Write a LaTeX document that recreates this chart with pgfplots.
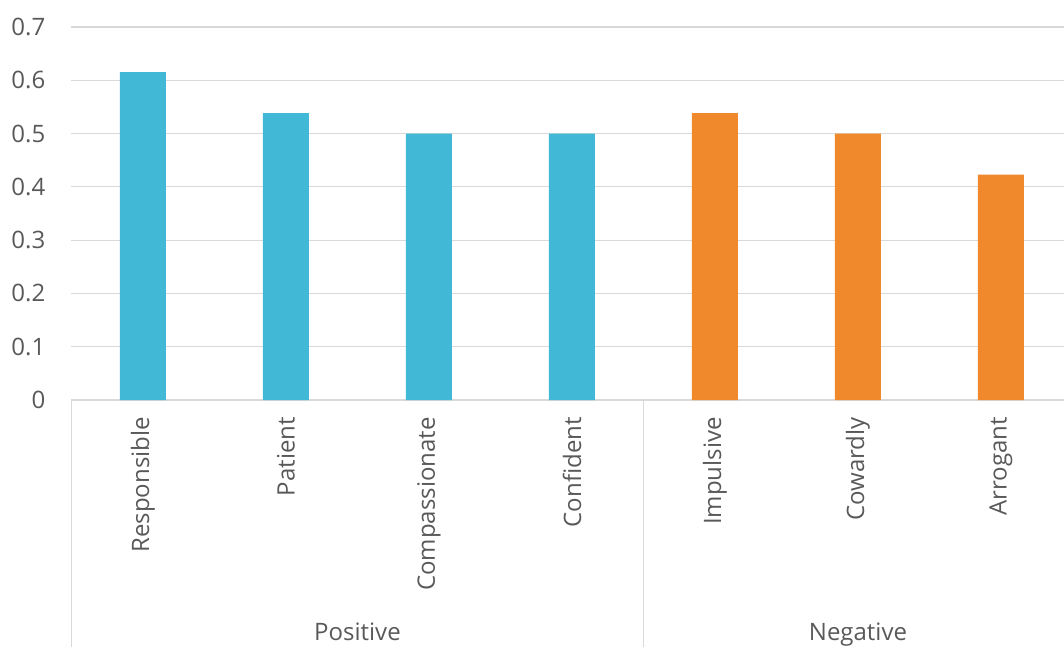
\documentclass[border=0pt]{standalone}
\usepackage{fontspec}
\setmainfont{Open Sans}
\usepackage{pgfplots}
\pgfplotsset{compat=1.18}

\definecolor{posblue}{RGB}{64,184,214}
\definecolor{negorange}{RGB}{239,137,44}
\definecolor{gridgray}{RGB}{217,217,217}
\definecolor{txtgray}{RGB}{89,89,89}

\begin{document}
\begin{tikzpicture}
\clip (-71.5pt,-246pt) rectangle (992.5pt,400pt);
\begin{axis}[
  scale only axis,
  width=1001pt, height=373pt,
  xmin=-0.5, xmax=6.5,
  ymin=0, ymax=0.7,
  clip=false,
  axis x line*=bottom,
  axis y line*=left,
  x axis line style={gridgray, line width=1.2pt, -},
  y axis line style={draw=none},
  major tick length=0pt,
  ymajorgrids,
  grid style={gridgray, line width=1.2pt},
  ytick={0,0.1,0.2,0.3,0.4,0.5,0.6,0.7},
  yticklabels={0,0.1,0.2,0.3,0.4,0.5,0.6,0.7},
  xtick={0,1,2,3,4,5,6},
  xticklabels={Responsible,Patient,Compassionate,Confident,Impulsive,Cowardly,Arrogant},
  every tick label/.append style={font=\fontsize{24}{28}\selectfont, text=txtgray},
  yticklabel style={anchor=east, inner sep=0pt},
  yticklabel shift=26pt,
  xticklabel style={rotate=90, anchor=east, inner sep=0pt},
  xticklabel shift=17pt,
]
\addplot[ybar, bar width=46pt, bar shift=0pt, fill=posblue, draw=none]
  coordinates {(0,0.6154) (1,0.5385) (2,0.5) (3,0.5)};
\addplot[ybar, bar width=46pt, bar shift=0pt, fill=negorange, draw=none]
  coordinates {(4,0.5385) (5,0.5) (6,0.4231)};

% group separators of the two-level category axis
\draw[gridgray, line width=1.2pt] (axis cs:-0.5,0) -- ++(0pt,-270pt);
\draw[gridgray, line width=1.2pt] (axis cs:3.5,0) -- ++(0pt,-270pt);
\draw[gridgray, line width=1.2pt] (axis cs:6.5,0) -- ++(0pt,-270pt);

\node[anchor=base, text=txtgray, font=\fontsize{24}{28}\selectfont]
  at ([yshift=-240pt]axis cs:1.5,0) {Positive};
\node[anchor=base, text=txtgray, font=\fontsize{24}{28}\selectfont]
  at ([yshift=-240pt]axis cs:5,0) {Negative};
\end{axis}
\end{tikzpicture}
\end{document}
